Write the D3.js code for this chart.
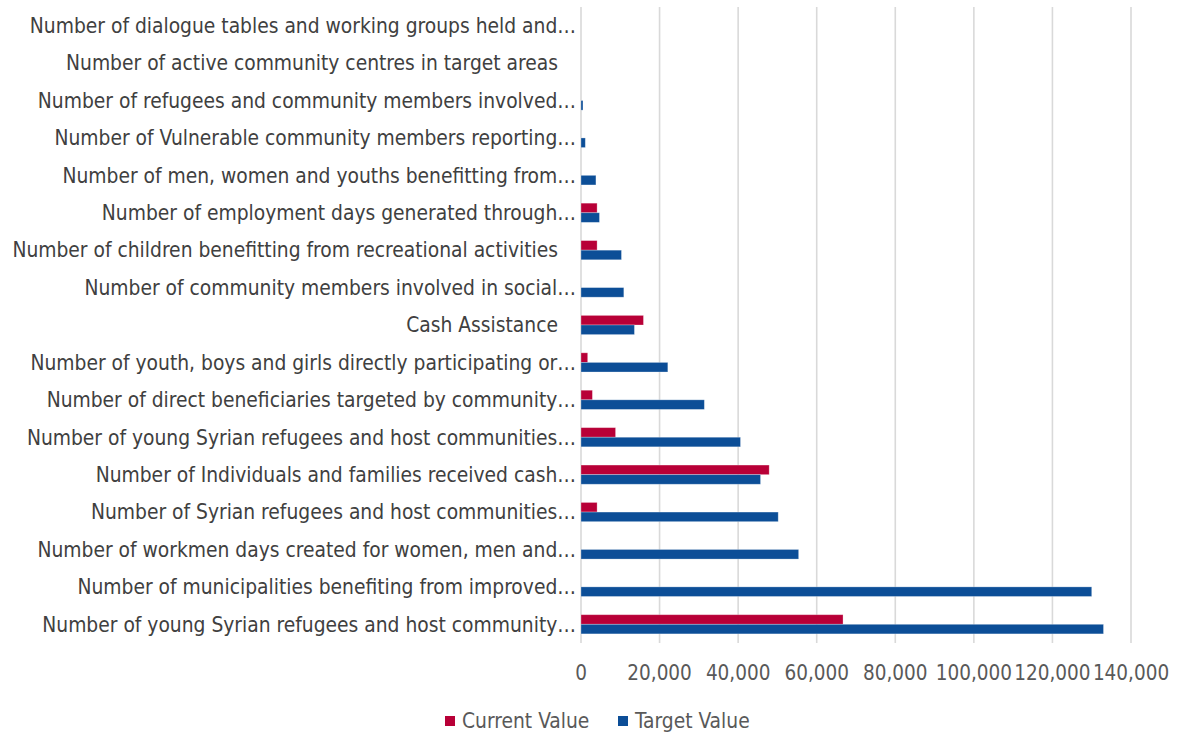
<!DOCTYPE html>
<html>
<head>
<meta charset="utf-8">
<script src="https://cdn.jsdelivr.net/npm/d3@7"></script>
<style>
  html, body { margin: 0; padding: 0; background: #fff; }
  svg { display: block; }
  text { font-family: "Liberation Sans Narrow", "DejaVu Sans Condensed", "Noto Sans", sans-serif; }
</style>
</head>
<body>
<svg id="chart" width="1178" height="734"></svg>
<script>
// Categories, top to bottom
const categories = [
  "Number of dialogue tables and working groups held and…",
  "Number of active community centres in target areas",
  "Number of refugees and community members involved…",
  "Number of Vulnerable community members reporting…",
  "Number of men, women and youths benefitting from…",
  "Number of employment days generated through…",
  "Number of children benefitting from recreational activities",
  "Number of community members involved in social…",
  "Cash Assistance",
  "Number of youth, boys and girls directly participating or…",
  "Number of direct beneficiaries targeted by community…",
  "Number of young Syrian refugees and host communities…",
  "Number of Individuals and families received cash…",
  "Number of Syrian refugees and host communities…",
  "Number of workmen days created for women, men and…",
  "Number of municipalities benefiting from improved…",
  "Number of young Syrian refugees and host community…"
];
const currentValues = [0, 0, 0, 0, 0, 4100, 4100, 0, 15900, 1700, 2900, 8800, 47900, 4100, 0, 0, 66700];
const targetValues  = [0, 0, 500, 1100, 3800, 4700, 10300, 10900, 13600, 22100, 31400, 40600, 45700, 50200, 55400, 130000, 133000];
const seriesNames = ["Current Value", "Target Value"];
const seriesColors = ["#B80037", "#0C4E97"];
const xTicks = [0, 20000, 40000, 60000, 80000, 100000, 120000, 140000];

const svg = d3.select("#chart");
const plot = { left: 581, right: 1131, top: 7, bottom: 643 };

const x = d3.scaleLinear().domain([0, 140000]).range([plot.left, plot.right]);
const y = d3.scaleBand().domain(categories).range([plot.top, plot.bottom]).paddingInner(0.487).paddingOuter(0.2435);
const ySub = d3.scaleBand().domain(seriesNames).range([0, y.bandwidth()]);

// gridlines
svg.append("g").selectAll("line").data(xTicks).join("line")
  .attr("x1", d => x(d)).attr("x2", d => x(d))
  .attr("y1", plot.top).attr("y2", plot.bottom)
  .attr("stroke", "#D9D9D9").attr("stroke-width", 1.6);

// bars
const rows = categories.map((c, i) => ({ c, vals: [currentValues[i], targetValues[i]] }));
const groups = svg.append("g").selectAll("g").data(rows).join("g")
  .attr("transform", d => `translate(0,${y(d.c)})`);
groups.selectAll("rect").data(d => d.vals.map((v, k) => ({ v, k })).filter(e => e.v > 0)).join("rect")
  .attr("x", x(0))
  .attr("y", e => ySub(seriesNames[e.k]))
  .attr("width", e => x(e.v) - x(0))
  .attr("height", ySub.bandwidth())
  .attr("fill", e => seriesColors[e.k])
  .attr("stroke", "#ffffff").attr("stroke-opacity", 0.35).attr("stroke-width", 0.8);

// category labels
svg.append("g").selectAll("text").data(categories).join("text")
  .attr("x", d => d.endsWith("…") ? 576 : 558)
  .attr("y", d => y(d) + y.bandwidth() / 2)
  .attr("dy", "0.35em")
  .attr("text-anchor", "end")
  .attr("fill", "#404040")
  .attr("font-size", 20.8)
  .text(d => d);

// x axis labels
const fmt = d3.format(",");
svg.append("g").selectAll("text").data(xTicks).join("text")
  .attr("x", d => x(d))
  .attr("y", 673)
  .attr("dy", "0.35em")
  .attr("text-anchor", "middle")
  .attr("fill", "#595959")
  .attr("font-size", 20.5)
  .text(d => fmt(d));

// legend
const legendItems = [
  { name: seriesNames[0], color: seriesColors[0], x: 445 },
  { name: seriesNames[1], color: seriesColors[1], x: 618 }
];
const lg = svg.append("g").selectAll("g").data(legendItems).join("g")
  .attr("transform", d => `translate(${d.x},721)`);
lg.append("rect").attr("x", 0).attr("y", -5).attr("width", 10).attr("height", 10).attr("fill", d => d.color);
lg.append("text").attr("x", 17).attr("dy", "0.35em").attr("fill", "#595959").attr("font-size", 20.8).text(d => d.name);
</script>
</body>
</html>
